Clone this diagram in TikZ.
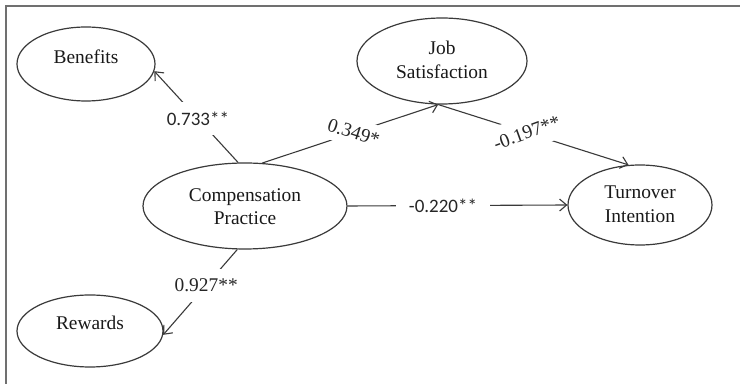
\documentclass[tikz,border=0pt]{standalone}
\usepackage{fontspec}
\setmainfont{Liberation Serif}
\newfontfamily\calib{Carlito}
\usetikzlibrary{shapes.geometric,arrows.meta}
\definecolor{ln}{HTML}{3A3A3A}
\definecolor{fr}{HTML}{707070}
\begin{document}
\begin{tikzpicture}[x=0.5pt,y=-0.5pt,
  ell/.style={draw=ln,line width=0.6pt,ellipse,inner sep=0pt},
  txt/.style={font=\fontsize{9.7}{11.8}\selectfont,align=center,inner sep=0pt,text=black!90},
  conn/.style={draw=ln,line width=0.55pt},
  arr/.style={conn,-{Straight Barb[length=3.5pt,width=6pt]}},
  lab/.style={fill=white,font=\fontsize{9.7}{11}\selectfont,text=black!85,inner xsep=1pt},
  labc/.style={lab,font=\calib\fontsize{9.5}{11}\selectfont}]
\useasboundingbox (0,0) rectangle (740,384);
\fill[white] (0,0) rectangle (740,384);
\draw[fr,line width=1pt] (6,384) -- (6,6) -- (740,6);

\node[ell,minimum width=69pt,minimum height=37pt] (ben) at (86,64) {};
\node[txt] (bent) at (86,57) {Benefits};
\node[ell,minimum width=85pt,minimum height=43pt] (job) at (442,61) {};
\node[txt] (jobt) at (442,60) {Job\\Satisfaction};
\node[ell,minimum width=102pt,minimum height=43pt] (comp) at (245,206) {};
\node[txt] (compt) at (245,206.5) {Compensation\\Practice};
\node[ell,minimum width=72pt,minimum height=40pt] (turn) at (640,205) {};
\node[txt] (turnt) at (640,204) {Turnover\\Intention};
\node[ell,minimum width=73pt,minimum height=36pt] (rew) at (90,331) {};
\node[txt] (rewt) at (90,323) {Rewards};

\draw[arr] (comp.99.5) -- node[labc,pos=0.48,inner ysep=5pt] (l1) {0.733**} (ben.-6.6);
\draw[arr] (comp.-100.5) -- node[lab,pos=0.42,inner ysep=5pt] (l2) {0.927**} (rew.-3);
\draw[arr] (comp.0) -- node[labc,pos=0.434,inner xsep=6.5pt,inner ysep=2pt] (l3) {-0.220**} (turn.180);
\draw[arr] (comp.68) -- node[lab,pos=0.52,rotate=-18,inner ysep=3.8pt,inner xsep=0pt] (l4) {0.349*} (job.-95);
\draw[arr] (job.-95) -- node[lab,pos=0.466,rotate=20,inner ysep=5pt,inner xsep=0pt] (l5) {-0.197**} (turn.106.8);
\end{tikzpicture}
\end{document}
